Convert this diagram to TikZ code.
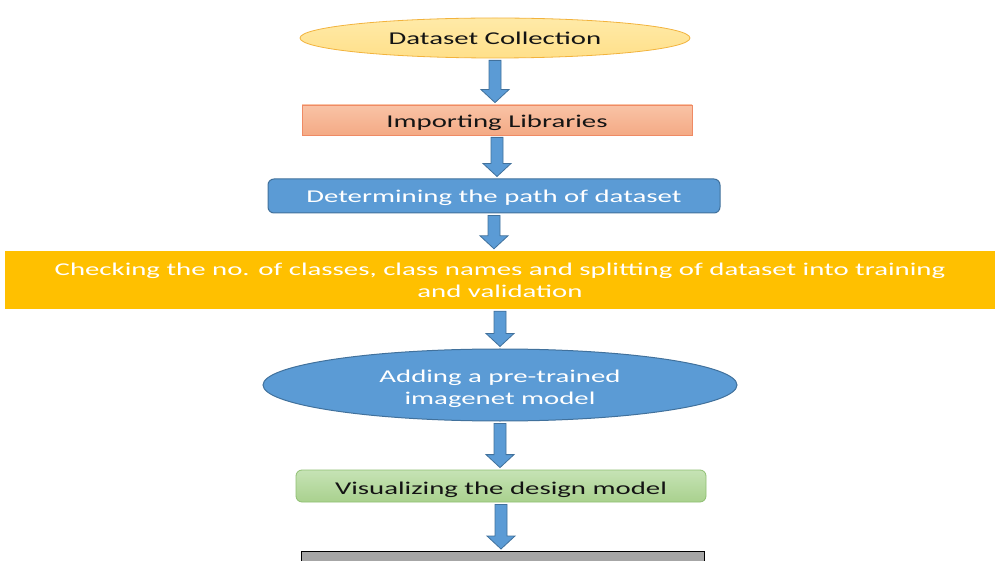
\documentclass[tikz,border=0pt]{standalone}
\usepackage{fontspec}
\setmainfont{Carlito}[FakeStretch=1.6]
\usetikzlibrary{shapes.geometric,calc}
\definecolor{ablue}{HTML}{5B9BD5}
\definecolor{ablueb}{HTML}{41719C}
\definecolor{lorange}{HTML}{FFE08A}
\definecolor{lorangeT}{HTML}{FFEAA8}
\definecolor{lorangeb}{HTML}{F2B33D}
\definecolor{salmon}{HTML}{F4AA85}
\definecolor{salmonT}{HTML}{F9C3A6}
\definecolor{salmonb}{HTML}{EF8A64}
\definecolor{gold}{HTML}{FFC000}
\definecolor{lgreen}{HTML}{A9D18E}
\definecolor{lgreenT}{HTML}{C6E3B5}
\definecolor{lgreenb}{HTML}{8FBF72}
\definecolor{dgray}{HTML}{A6A6A6}
\definecolor{dtext}{HTML}{141414}
\tikzset{
  barrow/.style={fill=ablue,draw=ablueb,line width=0.8pt,line join=miter},
  btext/.style={font=\fontsize{18}{22}\selectfont},
}
\newcommand{\blockarrow}[2]{%
  \draw[barrow] let \p1=(#1.south), \p2=(#2.north) in
    (\x1-6,\y1-2) -- (\x1+6,\y1-2) -- (\x1+6,\y2+15) -- (\x1+14,\y2+15)
    -- (\x1,\y2+2) -- (\x1-14,\y2+15) -- (\x1-6,\y2+15) -- cycle;}
\begin{document}
\begin{tikzpicture}[x=1pt,y=-1pt]
\useasboundingbox (0,0) rectangle (999,561);
\clip (0,0) rectangle (999,561);
\node[ellipse,draw=lorangeb,top color=lorangeT,bottom color=lorange,line width=0.8pt,minimum width=390pt,minimum height=40pt,inner sep=0pt,btext,text=dtext,text height=12.6pt,text depth=0pt] (n1) at (495,38) {Dataset Collection};
\node[rectangle,draw=salmonb,top color=salmonT,bottom color=salmon,line width=0.8pt,minimum width=390pt,minimum height=30pt,inner sep=0pt,btext,text=dtext,text height=15.6pt,text depth=0pt] (n2) at (497,120) {Importing Libraries};
\node[rectangle,rounded corners=6pt,draw=ablueb,fill=ablue,line width=1pt,minimum width=452pt,minimum height=34pt,inner sep=0pt,btext,text=white,text height=13pt,text depth=0pt] (n3) at (494,196) {Determining the path of dataset};
\node[rectangle,fill=gold,minimum width=990pt,minimum height=58pt,inner sep=0pt,btext,text=white,align=center] (n4) at (500,280) {Checking the no. of classes, class names and splitting of dataset into training\\and validation};
\node[ellipse,draw=ablueb,fill=ablue,line width=1pt,minimum width=474pt,minimum height=72pt,inner sep=0pt,btext,text=white,align=center,text height=39.6pt,text depth=0pt] (n5) at (500,385) {Adding a pre-trained\\imagenet model};
\node[rectangle,rounded corners=6pt,draw=lgreenb,top color=lgreenT,bottom color=lgreen,line width=0.8pt,minimum width=410pt,minimum height=32pt,inner sep=0pt,btext,text=dtext,text height=16.2pt,text depth=0pt] (n6) at (501,486) {Visualizing the design model};
\node[rectangle,draw=black,fill=dgray,line width=1.2pt,minimum width=403pt,minimum height=40pt,inner sep=0pt,anchor=north] (n7) at (503,551) {};
\blockarrow{n1}{n2}
\blockarrow{n2}{n3}
\blockarrow{n3}{n4}
\blockarrow{n4}{n5}
\blockarrow{n5}{n6}
\blockarrow{n6}{n7}
\end{tikzpicture}
\end{document}
